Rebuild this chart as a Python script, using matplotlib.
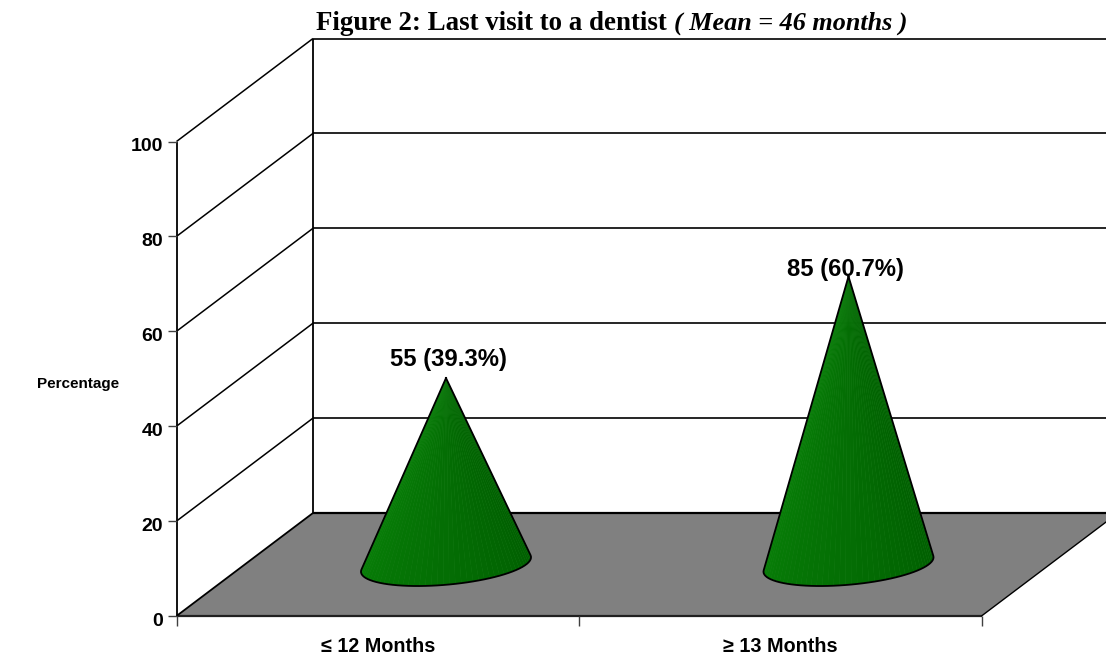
import numpy as np
import matplotlib
matplotlib.use("Agg")
import matplotlib.pyplot as plt
from matplotlib.collections import PolyCollection

categories = ["\u2264 12 Months", "\u2265 13 Months"]
percent = [39.3, 60.7]
bar_labels = ["55 (39.3%)", "85 (60.7%)"]
y_ticks = [0, 20, 40, 60, 80, 100]

# oblique projection of the 3D chart box, in pixels
X0, Y0 = 176.5, 616.0
CAT_W, VAL_H = 402.5, 4.745
DEPTH_X, DEPTH_Y = 136.5, 103.0


def project(cat, val, depth=0.0):
    """cat in category widths, val in percent, depth 0 (front) to 1 (back)"""
    return X0 + cat * CAT_W + depth * DEPTH_X, Y0 - val * VAL_H - depth * DEPTH_Y


def line(ax, p, q, lw=1.3, color="black", z=2):
    ax.plot([p[0], q[0]], [p[1], q[1]], color=color, lw=lw, zorder=z, solid_capstyle="butt")


def draw_cone(ax, cat, val):
    """Cone standing in the middle of the floor, drawn as thin shaded facets."""
    cx, cy = project(cat, 0, 0.5)
    apex = project(cat, val, 0.5)
    t = np.linspace(0, 2 * np.pi, 721)
    bx = cx + 0.199 * CAT_W * np.cos(t) + 0.209 * DEPTH_X * np.sin(t)
    by = cy - 0.209 * DEPTH_Y * np.sin(t)

    # tangent points seen from the apex
    ang = np.arctan2(bx - apex[0], by - apex[1])
    i_left, i_right = np.argmin(ang), np.argmax(ang)
    tl, tr = t[i_left], t[i_right]
    if tr < tl:
        tr += 2 * np.pi
    ts = np.linspace(tl, tr, 48)
    fx = cx + 0.199 * CAT_W * np.cos(ts) + 0.209 * DEPTH_X * np.sin(ts)
    fy = cy - 0.209 * DEPTH_Y * np.sin(ts)

    # lighter underlay shows through the seams between facets
    ax.fill(np.r_[apex[0], fx], np.r_[apex[1], fy], color=(0.12, 0.52, 0.12), lw=0, alpha=0.97, zorder=3)

    polys, colors = [], []
    n = len(ts) - 1
    for i in range(n):
        polys.append([apex, (fx[i], fy[i]), (fx[i + 1], fy[i + 1])])
        s = i / (n - 1)
        g = 0.50 - 0.14 * s
        colors.append((0.03 * (1 - s), g, 0.03 * (1 - s), 0.98))
    ax.add_collection(PolyCollection(polys, facecolors=colors, edgecolors="none",
                                     antialiaseds=True, zorder=4))

    ax.plot(np.r_[apex[0], fx, apex[0]], np.r_[apex[1], fy, apex[1]],
            color="black", lw=1.3, zorder=5, solid_joinstyle="round")


fig = plt.figure(figsize=(11.06, 6.59), dpi=100)
ax = fig.add_axes([0, 0, 1, 1])
ax.set_xlim(0, 1106)
ax.set_ylim(659, 0)
ax.axis("off")

# floor
floor = [project(0, 0), project(0, 0, 1), project(2, 0, 1), project(2, 0)]
ax.fill([p[0] for p in floor], [p[1] for p in floor], color="#808080", zorder=1, lw=0)
line(ax, floor[0], floor[3], lw=1.6, color="#202020")
line(ax, floor[0], floor[1])
line(ax, floor[1], floor[2], lw=1.6)
line(ax, floor[3], floor[2], lw=1.0)

# walls, gridlines and y ticks
line(ax, project(0, 0), project(0, 100))
line(ax, project(0, 0, 1), project(0, 100, 1))
for v in y_ticks:
    if v > 0:
        line(ax, project(0, v), project(0, v, 1), lw=1.1)
        line(ax, project(0, v, 1), project(2, v, 1), lw=1.2)
    x, y = project(0, v)
    line(ax, (x - 9, y), (x, y), lw=1.0, color="#404040")
    ax.text(x - 13.5, y + 5, str(v), ha="right", va="center", family="Liberation Sans",
            fontweight="bold", fontsize=14)

# x ticks and labels
for c in range(3):
    x, y = project(c, 0)
    line(ax, (x, y), (x, y + 10), lw=1.0, color="#404040")
for c, name in enumerate(categories):
    x, y = project(c + 0.5, 0)
    ax.text(x, y + 30, name, ha="center", va="center", family="Liberation Sans",
            fontweight="bold", fontsize=14.2)

ax.text(78, 384, "Percentage", ha="center", va="center", family="Liberation Sans",
        fontweight="bold", fontsize=11)

# cones and their labels
label_dx, label_dy = [3, -3], [-19, -7]
for c, val in enumerate(percent):
    draw_cone(ax, c + 0.5, val)
    lx, ly = project(c + 0.5, val, 0.5)
    ax.text(lx + label_dx[c], ly + label_dy[c], bar_labels[c], ha="center", va="center",
            family="Liberation Sans", fontweight="bold", fontsize=17.2, zorder=6)

# title in two styles
ax.text(316, 30, "Figure 2: Last visit to a dentist", ha="left", va="baseline",
        family="Liberation Serif", fontweight="bold", fontsize=19.4)
ax.text(908, 30, "( Mean = 46 months )", ha="right", va="baseline",
        family="Liberation Serif", fontweight="bold", fontstyle="italic", fontsize=18.8)

fig.savefig("out.png", dpi=100)
